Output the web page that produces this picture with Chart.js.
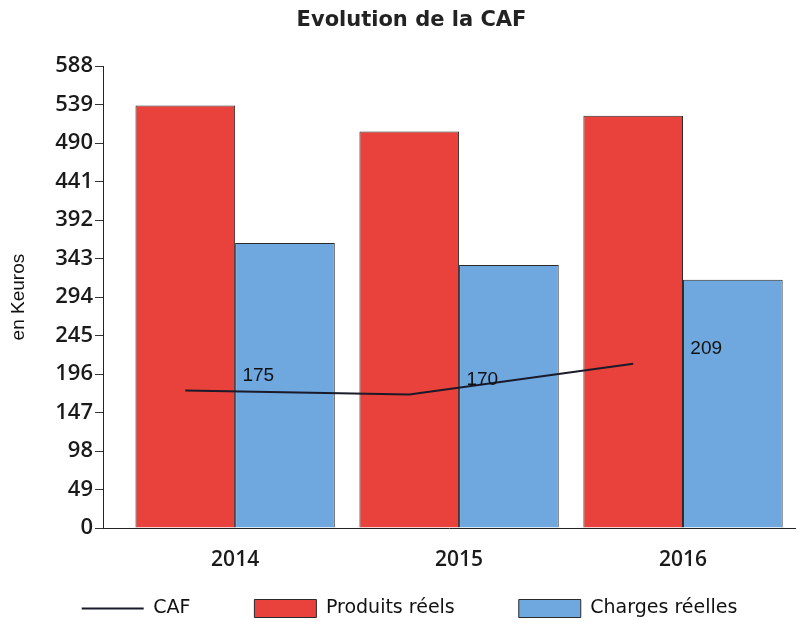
<!DOCTYPE html>
<html>
<head>
<meta charset="utf-8">
<script src="https://cdn.jsdelivr.net/npm/chart.js@4/dist/chart.umd.min.js"></script>
<style>
  html,body{margin:0;padding:0;background:#fff;}
  #wrap{width:803px;height:623px;}
</style>
</head>
<body>
<div id="wrap"><canvas id="myChart" width="803" height="623"></canvas></div>
<script>
// donnees (en Keuros)
const years = ["2014", "2015", "2016"];
const produits = [538, 505, 525];
const charges = [363, 335, 316];
const caf = [175, 170, 209];
const yTicks = [0, 49, 98, 147, 196, 245, 294, 343, 392, 441, 490, 539, 588];

const catPct = 0.89;

// etiquettes de la courbe CAF
const cafLabels = {
    id: "cafLabels",
    afterDatasetsDraw(chart){
        const ctx = chart.ctx;
        const meta = chart.getDatasetMeta(0);
        ctx.save();
        ctx.font = "19px 'Liberation Sans'";
        ctx.fillStyle = "#111";
        ctx.textAlign = "center";
        ctx.textBaseline = "middle";
        meta.data.forEach(function(pt, i){
            ctx.fillText(String(caf[i]), pt.x + 73, pt.y - 15);
        });
        ctx.restore();
    }
};

// legende remontee (grand padding horizontal, peu de place en hauteur), titre decale a droite
const moveBoxes = {
    id: "moveBoxes",
    afterLayout(chart){
        const lg = chart.legend;
        lg.top -= 37;
        lg.left += 12; lg.right += 12;
        chart.titleBlock.left += 28;
    }
};

const ctx = document.getElementById("myChart").getContext("2d");
const myChart = new Chart(ctx, {
    type: "bar",
    data: {
        datasets: [{
            type: "line",
            label: "CAF",
            data: caf.map(function(v, i){ return {x: i - catPct / 4, y: v}; }),
            borderColor: "#1a1a2a",
            backgroundColor: "#1a1a2a",
            borderWidth: 2,
            pointRadius: 0,
            pointStyle: "line",
            tension: 0
        }, {
            label: "Produits réels",
            data: produits.map(function(v, i){ return {x: i, y: v}; }),
            backgroundColor: "#e9413b",
            borderColor: "#2a2a2a",
            borderWidth: 1,
            pointStyle: "rect",
            barPercentage: 1,
            categoryPercentage: catPct
        }, {
            label: "Charges réelles",
            data: charges.map(function(v, i){ return {x: i, y: v}; }),
            backgroundColor: "#6fa8df",
            borderColor: "#2a2a2a",
            borderWidth: 1,
            pointStyle: "rect",
            barPercentage: 1,
            categoryPercentage: catPct
        }]
    },
    options: {
        responsive: false,
        animation: false,
        layout: { padding: { left: 0, right: 8, top: 0, bottom: 0 } },
        plugins: {
            title: {
                display: true,
                text: "Evolution de la CAF",
                color: "#222",
                font: { family: "'DejaVu Sans'", size: 21, weight: "bold" },
                padding: { top: 8, bottom: 33 }
            },
            legend: {
                position: "bottom",
                maxHeight: 51,
                labels: {
                    usePointStyle: true,
                    pointStyleWidth: 62,
                    boxHeight: 18,
                    padding: 64,
                    color: "#111",
                    font: { family: "'DejaVu Sans'", size: 19 }
                }
            },
            tooltip: { enabled: false }
        },
        scales: {
            x: {
                type: "linear",
                min: -0.59,
                max: 2.5,
                offset: false,
                afterBuildTicks: function(axis){
                    axis.ticks = years.map(function(y, i){ return {value: i}; });
                },
                afterFit: function(axis){ axis.height = 44; },
                grid: { display: false, drawTicks: false },
                border: { display: true, color: "#222", width: 1 },
                ticks: {
                    padding: 19,
                    autoSkip: false,
                    maxRotation: 0,
                    color: "#1a1a1a",
                    font: { family: "'Open Sans'", size: 21, weight: "600" },
                    callback: function(v){ return years[v]; }
                }
            },
            y: {
                min: 0,
                max: 588,
                afterBuildTicks: function(axis){
                    axis.ticks = yTicks.map(function(v){ return {value: v}; });
                },
                afterFit: function(axis){ axis.width = 103; },
                grid: { drawOnChartArea: false, drawTicks: true, tickLength: 8, color: "#333" },
                border: { display: true, color: "#222", width: 1 },
                title: {
                    display: true,
                    text: "en Keuros",
                    color: "#111",
                    font: { family: "'Liberation Sans'", size: 19 },
                    padding: { top: 7, bottom: 0 }
                },
                ticks: {
                    padding: 2,
                    color: "#1a1a1a",
                    font: { family: "'Open Sans'", size: 22, weight: "600" }
                }
            }
        }
    },
    plugins: [cafLabels, moveBoxes]
});
</script>
</body>
</html>
